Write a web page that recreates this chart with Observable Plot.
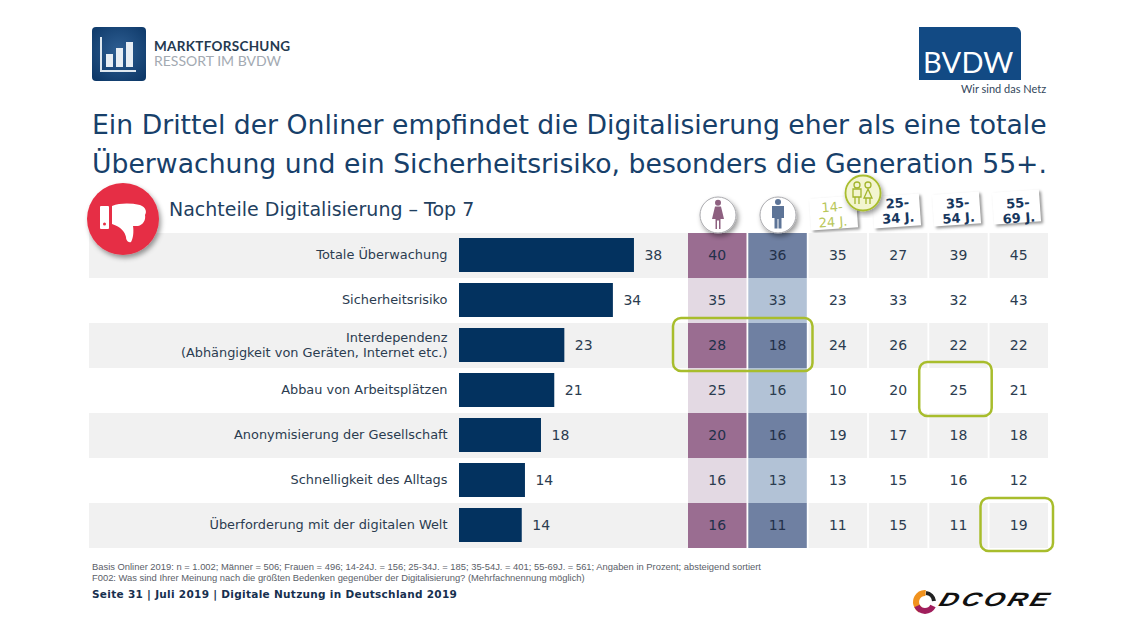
<!DOCTYPE html>
<html lang="de"><head><meta charset="utf-8">
<script src="https://cdn.jsdelivr.net/npm/d3@7"></script>
<script src="https://cdn.jsdelivr.net/npm/@observablehq/plot@0.6"></script>
<style>
html,body{margin:0;padding:0;background:#fff}
#page{position:relative;width:1127px;height:634px;overflow:hidden;font-family:"DejaVu Sans",sans-serif}
.abs{position:absolute;white-space:nowrap}
.card{position:absolute;width:47px;height:32px;background:#fff;box-shadow:2px 2px 3px rgba(0,0,0,.4);transform:rotate(-4deg)}
svg.plot-chart{position:absolute;overflow:visible}
</style></head><body><div id="page">

<svg class="abs" style="left:92px;top:27px" width="54" height="54"><defs><radialGradient id="lg" cx=".5" cy=".45" r=".7"><stop offset="0" stop-color="#2f5f93"/><stop offset="1" stop-color="#0c3767"/></radialGradient></defs><rect width="54" height="54" rx="4" fill="url(#lg)"/><path d="M9 10V44H44" fill="none" stroke="#dfe8f0" stroke-width="2"/><rect x="14" y="27" width="7" height="13" fill="#e8eef4"/><rect x="24" y="21" width="7" height="19" fill="#e8eef4"/><rect x="34" y="15" width="7" height="25" fill="#e8eef4"/></svg>
<div class="abs" style="left:154px;top:39px;font:700 13.5px Lato,sans-serif;color:#24394f;line-height:14px;letter-spacing:.3px">MARKTFORSCHUNG</div>
<div class="abs" style="left:154px;top:53px;font:400 14px Lato,sans-serif;color:#a3aab2;line-height:15px">RESSORT IM BVDW</div>

<div class="abs" style="left:919px;top:27px;width:102px;height:53px;background:#124a84;border-top-right-radius:6px"></div>
<div class="abs" style="left:923px;top:46px;font:400 29px Lato,sans-serif;color:#fff;line-height:32px;letter-spacing:.2px">BVDW</div>
<div class="abs" style="left:961px;top:82px;font:400 11px Lato,sans-serif;color:#33475c;line-height:13px">Wir sind das Netz</div>

<div class="abs" id="t1" style="left:92px;top:107px;font-size:26.68px;line-height:36px;color:#17406a">Ein Drittel der Onliner empfindet die Digitalisierung eher als eine totale</div>
<div class="abs" id="t2" style="left:92px;top:146px;font-size:26.68px;line-height:36px;color:#17406a">Überwachung und ein Sicherheitsrisiko, besonders die Generation 55+.</div>
<div class="abs" style="left:169px;top:197px;font-size:19px;line-height:24px;color:#1f3f5f">Nachteile Digitalisierung – Top 7</div>

<div class="card" style="left:810px;top:197px"></div>
<div class="card" style="left:873px;top:195px"></div>
<div class="card" style="left:933px;top:193px"></div>
<div class="card" style="left:993px;top:191px"></div>

<div id="charts"></div>

<svg class="abs" style="left:80px;top:176px;overflow:visible" width="86" height="86"><defs><filter id="sh" x="-20%" y="-20%" width="140%" height="140%"><feDropShadow dx="2" dy="3" stdDeviation="2.5" flood-opacity=".4"/></filter></defs><circle cx="43" cy="43" r="36" fill="#e62f44" filter="url(#sh)"/><rect x="20" y="30" width="9" height="23" rx="1" fill="#fff"/><circle cx="24.500" cy="48" r="1.500" fill="#e62f44"/><path d="M32 30 C40 27 50 27 60 29 C66 31 67 36 65 39 C66 44 63 49 58 50 L53 50 C54 56 53 63 51 66 C48 67 46 64 46 61 C45 56 41 51 32 48Z" fill="#fff"/></svg>

<svg class="abs" style="left:698px;top:195px;overflow:visible" width="40" height="40"><circle cx="20" cy="20" r="18" fill="#fff" stroke="#a9a9ad" stroke-width="1" filter="url(#sh)"/><circle cx="20" cy="7.800" r="3" fill="#8e6080"/><path d="M17 11.500H23L26 24H22.500V34H21V25.500H19V34H17.500V24H14Z" fill="#8e6080"/></svg>
<svg class="abs" style="left:758px;top:195px;overflow:visible" width="40" height="40"><circle cx="20" cy="20" r="18" fill="#fff" stroke="#a9a9ad" stroke-width="1" filter="url(#sh)"/><circle cx="20" cy="7" r="3" fill="#5d7497"/><path d="M14 11H26V23H23.500V33.500H20.500V24H19.500V33.500H16.500V23H14Z" fill="#5d7497"/></svg>
<svg class="abs" style="left:843px;top:173px;overflow:visible" width="40" height="40"><circle cx="20" cy="20" r="17.500" fill="#f3f5d0" stroke="#a9bd2d" stroke-width="1.800" filter="url(#sh)"/><g fill="none" stroke="#a3b52c" stroke-width="1.300"><circle cx="14" cy="12" r="3"/><circle cx="25" cy="12" r="3"/><path d="M10 16H18V24H10ZM12 24V31M16 24V31M25 16L29 25H21ZM23 25V31M27 25V31"/></g></svg>

<div class="abs" style="left:92px;top:561px;font:9.400px/11px 'Liberation Sans',sans-serif;color:#5a6068">Basis Onliner 2019: n = 1.002; Männer = 506; Frauen = 496; 14-24J. = 156; 25-34J. = 185; 35-54J. = 401; 55-69J. = 561; Angaben in Prozent; absteigend sortiert</div>
<div class="abs" style="left:92px;top:572px;font:9.400px/11px 'Liberation Sans',sans-serif;color:#5a6068">F002: Was sind Ihrer Meinung nach die größten Bedenken gegenüber der Digitalisierung? (Mehrfachnennung möglich)</div>
<div class="abs" style="left:92px;top:587px;font:700 10.500px/14px 'DejaVu Sans',sans-serif;color:#17304f;letter-spacing:.3px">Seite 31 | Juli 2019 | Digitale Nutzung in Deutschland 2019</div>

<svg class="abs" style="left:912px;top:589px;overflow:visible" width="26" height="26"><circle cx="13" cy="13" r="9" fill="none" stroke="#f0921e" stroke-width="6" stroke-dasharray="24 40" transform="rotate(120 13 13)"/><path d="M5 17A9 9 0 0 0 21 17" fill="none" stroke="#a01e5c" stroke-width="6"/><path d="M14 4A9 9 0 0 1 22 12" fill="none" stroke="#222" stroke-width="4"/></svg>
<div class="abs" style="left:940px;top:586px;font:italic 700 24px/28px 'Liberation Sans',sans-serif;color:#111;letter-spacing:3px;transform:scale(1.1,.8) skewX(-15deg);transform-origin:left center">DCORE</div>
</div>
<script>
const rowNames = [
  "Totale Überwachung",
  "Sicherheitsrisiko",
  "Interdependenz\n(Abhängigkeit von Geräten, Internet etc.)",
  "Abbau von Arbeitsplätzen",
  "Anonymisierung der Gesellschaft",
  "Schnelligkeit des Alltags",
  "Überforderung mit der digitalen Welt"
];
const barValues = [38.2, 33.6, 23, 20.8, 17.9, 14.4, 13.7];
const barLabels = [38, 34, 23, 21, 18, 14, 14];
const columns = ["Frauen", "Männer", "14-\n24 J.", "25-\n34 J.", "35-\n54 J.", "55-\n69 J."];
const frauen = [40, 35, 28, 25, 20, 16, 16];
const maenner = [36, 33, 18, 16, 16, 13, 11];
const age14 = [35, 23, 24, 10, 19, 13, 11];
const age25 = [27, 33, 26, 20, 17, 15, 15];
const age35 = [39, 32, 22, 25, 18, 16, 11];
const age55 = [45, 43, 22, 21, 18, 12, 19];

const series = [frauen, maenner, age14, age25, age35, age55];
const rows = rowNames.map((name, i) => ({name, i, value: barValues[i], label: barLabels[i]}));
const cells = series.flatMap((vals, c) => vals.map((v, i) => ({col: columns[c], c, row: rowNames[i], i, v})));

const INK = "#2b3c50";
const cellFill = d => {
  const odd = d.i % 2 === 0;
  if (d.c === 0) return odd ? "#9a6d91" : "#e3d9e3";
  if (d.c === 1) return odd ? "#6f80a2" : "#b2c2d6";
  return odd ? "#f1f1f1" : "none";
};
const yScale = {domain: rowNames, padding: 0, round: false};
const fontFamily = "'DejaVu Sans', sans-serif";

const left = Plot.plot({
  width: 599, height: 315, marginLeft: 370, marginRight: 0, marginTop: 0, marginBottom: 0,
  x: {domain: [0, 50], axis: null},
  y: {...yScale, axis: null},
  style: {background: "transparent", fontFamily, overflow: "visible"},
  marks: [
    Plot.cell(rows.filter(d => d.i % 2 === 0), {y: "name", fill: "#f1f1f1", insetLeft: -370}),
    Plot.barX(rows, {x: "value", y: "name", fill: "#03325f", insetTop: 5, insetBottom: 6}),
    Plot.text(rows, {x: "value", y: "name", text: "label", textAnchor: "start", dx: 10, fontSize: 14, fill: INK}),
    Plot.axisY({anchor: "left", tickSize: 0, tickPadding: 12, label: null, fontSize: 12.9, color: INK, lineHeight: 1.17, dy: -1.5})
  ]
});
left.classList.add("plot-chart");
left.style.left = "89px"; left.style.top = "233px";

const hl = {fill: "none", stroke: "#a8bd2c", strokeWidth: 2.5, rx: 8};
const right = Plot.plot({
  width: 400, height: 368, marginLeft: 28, marginRight: 12, marginTop: 43, marginBottom: 10,
  x: {domain: columns, paddingInner: 0.03, paddingOuter: 0, round: false, axis: null},
  y: {...yScale, axis: null},
  style: {background: "transparent", fontFamily, overflow: "visible"},
  marks: [
    Plot.cell(cells, {x: "col", y: "row", fill: cellFill}),
    Plot.text(cells, {x: "col", y: "row", text: "v", fontSize: 14, dx: -0.5, fill: d => d.c < 2 && d.i % 2 === 0 ? "#23304a" : INK}),
    Plot.axisX(columns.slice(2, 3), {anchor: "top", tickSize: 0, tickPadding: 7, label: null, rotate: -4, fontSize: 13, color: "#b9c75a", lineHeight: 1.15, dx: -5, tickFormat: d => d}),
    Plot.axisX(columns.slice(3), {anchor: "top", tickSize: 0, tickPadding: 11, label: null, rotate: -4, fontSize: 13, fontWeight: 700, color: "#17375e", lineHeight: 1.15, tickFormat: d => d}),
    Plot.cell([{col: columns[0], row: rowNames[2]}], {x: "col", y: "row", ...hl, insetLeft: -15, insetRight: -66, insetTop: -5, insetBottom: -3}),
    Plot.cell([{col: columns[4], row: rowNames[3]}], {x: "col", y: "row", ...hl, insetLeft: -10, insetRight: -4, insetTop: -6, insetBottom: -3}),
    Plot.cell([{col: columns[5], row: rowNames[6]}], {x: "col", y: "row", ...hl, insetLeft: -9, insetRight: -5, insetTop: -5, insetBottom: -3})
  ]
});
right.classList.add("plot-chart");
right.style.left = "660px"; right.style.top = "190px";
const host = document.getElementById("charts");
host.append(left, right);
</script></body></html>
